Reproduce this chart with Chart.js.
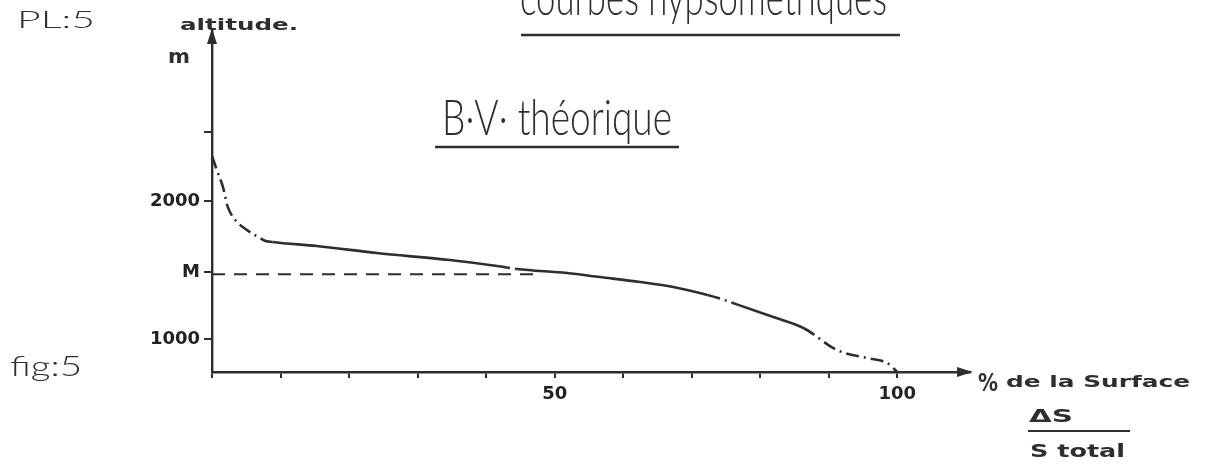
<!DOCTYPE html>
<html>
<head>
<meta charset="utf-8">
<script src="https://cdn.jsdelivr.net/npm/chart.js@4.4.1/dist/chart.umd.min.js"></script>
<style>
html, body { margin: 0; padding: 0; background: #fff; }
</style>
</head>
<body>
<canvas id="myChart" width="1208" height="466"></canvas>
<script>
'use strict';
// hypsometric curve: % of surface (x) vs altitude in m (y)
var surfacePct = [0, 0.7, 1.6, 2.3, 3.4, 5.1, 7, 7.7, 8.8, 15.3, 24, 34.7, 41.6, 44.5, 51.8, 56.6, 62.5, 67.3, 72.3, 74, 76, 81.9, 86.3, 91.2, 95.6, 98.5, 100];
var altitude = [2326, 2225, 2101, 1957, 1862, 1790, 1732, 1712, 1703, 1674, 1623, 1572, 1529, 1507, 1478, 1449, 1413, 1377, 1319, 1295, 1261, 1159, 1080, 920, 862, 826, 761];
// parts of the curve drawn dash-dot in the original
var dashDotRanges = [[0, 8.8], [41.6, 44.5], [72.3, 76], [86.3, 100]];

// mean altitude M (dashed line)
var meanPct = [0, 48];
var meanAlt = [1470, 1470];

var xTicks = [0, 10, 20, 30, 40, 50, 60, 70, 80, 90, 100];
var xLabelled = [50, 100];
var yTicks = [1000, 1485, 2000, 2500];
var yTickLabels = ['1000', 'M', '2000', ''];

var ink = '#2e2e2e';

function toPoints(xs, ys) {
    return xs.map(function (x, i) { return { x: x, y: ys[i] }; });
}

function isDashDot(a, b) {
    return dashDotRanges.some(function (r) { return a >= r[0] && b <= r[1]; });
}

// draws text squeezed/stretched to a given width, like the stencil lettering
function letter(ctx, txt, x, base, w, font) {
    ctx.save();
    ctx.font = font;
    ctx.fillStyle = ink;
    ctx.textAlign = 'left';
    ctx.textBaseline = 'alphabetic';
    var m = ctx.measureText(txt).width;
    ctx.translate(x, base);
    ctx.scale(w / m, 1);
    ctx.fillText(txt, 0, 0);
    ctx.restore();
}

function hline(ctx, x1, x2, y, lw) {
    ctx.beginPath();
    ctx.moveTo(x1, y);
    ctx.lineTo(x2, y);
    ctx.lineWidth = lw;
    ctx.strokeStyle = ink;
    ctx.stroke();
}

var lettering = {
    id: 'lettering',
    afterDraw: function (chart) {
        var ctx = chart.ctx;
        var area = chart.chartArea;
        ctx.save();
        ctx.fillStyle = ink;
        // arrow heads on the axes
        ctx.beginPath();
        ctx.moveTo(area.left, area.top - 2);
        ctx.lineTo(area.left - 5, area.top + 14);
        ctx.lineTo(area.left + 5, area.top + 14);
        ctx.closePath();
        ctx.fill();
        ctx.beginPath();
        ctx.moveTo(area.right + 3, area.bottom);
        ctx.lineTo(area.right - 13, area.bottom - 5);
        ctx.lineTo(area.right - 13, area.bottom + 5);
        ctx.closePath();
        ctx.fill();

        var light = '300 50px Lato, "DejaVu Sans", sans-serif';
        var bold = 'bold 16px "DejaVu Sans", sans-serif';
        letter(ctx, 'courbes hypsométriques', 520, 15, 367, light);
        hline(ctx, 521, 900, 35, 2.5);
        letter(ctx, 'B·V· théorique', 442, 135, 230, light);
        hline(ctx, 435, 679, 147, 2.5);
        letter(ctx, 'PL:5', 17, 28, 78, '300 24px Lato, sans-serif');
        letter(ctx, 'fig:5', 10, 376, 72, '300 28px Lato, sans-serif');
        letter(ctx, 'altitude.', 180, 30, 118, bold);
        letter(ctx, 'm', 168, 63, 22, 'bold 19px "DejaVu Sans", sans-serif');
        letter(ctx, '%', 978, 391, 20, 'bold 25px "DejaVu Sans", sans-serif');
        letter(ctx, 'de la Surface', 1006, 387, 184, bold);
        letter(ctx, 'ΔS', 1029, 422, 44, 'bold 17px "DejaVu Sans", sans-serif');
        hline(ctx, 1028, 1130, 431, 2);
        letter(ctx, 'S total', 1030, 457, 95, 'bold 17px "DejaVu Sans", sans-serif');
        ctx.restore();
    }
};

var tickFont = { family: '"DejaVu Sans", sans-serif', weight: 'bold', size: 18 };

var ctx = document.getElementById('myChart').getContext('2d');
var myChart = new Chart(ctx, {
    type: 'line',
    data: {
        datasets: [{
            data: toPoints(surfacePct, altitude),
            borderColor: ink,
            borderWidth: 2.6,
            pointRadius: 0,
            cubicInterpolationMode: 'monotone',
            segment: {
                borderDash: function (c) {
                    return isDashDot(c.p0.parsed.x, c.p1.parsed.x) ? [13, 5, 2, 5] : undefined;
                }
            }
        }, {
            data: toPoints(meanPct, meanAlt),
            borderColor: ink,
            borderWidth: 2,
            borderDash: [13, 9],
            pointRadius: 0
        }]
    },
    options: {
        responsive: false,
        animation: false,
        layout: { padding: { left: 0, top: 30, right: 238, bottom: 0 } },
        plugins: { legend: { display: false }, tooltip: { enabled: false } },
        scales: {
            x: {
                type: 'linear',
                min: 0,
                max: 110.6,
                afterBuildTicks: function (s) { s.ticks = xTicks.map(function (v) { return { value: v }; }); },
                afterFit: function (s) { s.height = 94; },
                border: { display: true, color: ink, width: 2.4 },
                grid: { drawOnChartArea: false, tickLength: 6, color: ink, tickWidth: 2, lineWidth: 2 },
                ticks: {
                    autoSkip: false,
                    maxRotation: 0,
                    padding: 6,
                    color: '#222',
                    font: tickFont,
                    callback: function (v) { return xLabelled.indexOf(v) >= 0 ? String(v) : ''; }
                }
            },
            y: {
                min: 761,
                max: 3239,
                afterBuildTicks: function (s) { s.ticks = yTicks.map(function (v) { return { value: v }; }); },
                afterFit: function (s) { s.width = 212; },
                border: { display: true, color: ink, width: 2.4 },
                grid: { drawOnChartArea: false, tickLength: 8, color: ink, tickWidth: 2, lineWidth: 2 },
                ticks: {
                    autoSkip: false,
                    padding: 4,
                    color: '#222',
                    font: tickFont,
                    callback: function (v) { return yTickLabels[yTicks.indexOf(v)]; }
                }
            }
        }
    },
    plugins: [lettering]
});
</script>
</body>
</html>
